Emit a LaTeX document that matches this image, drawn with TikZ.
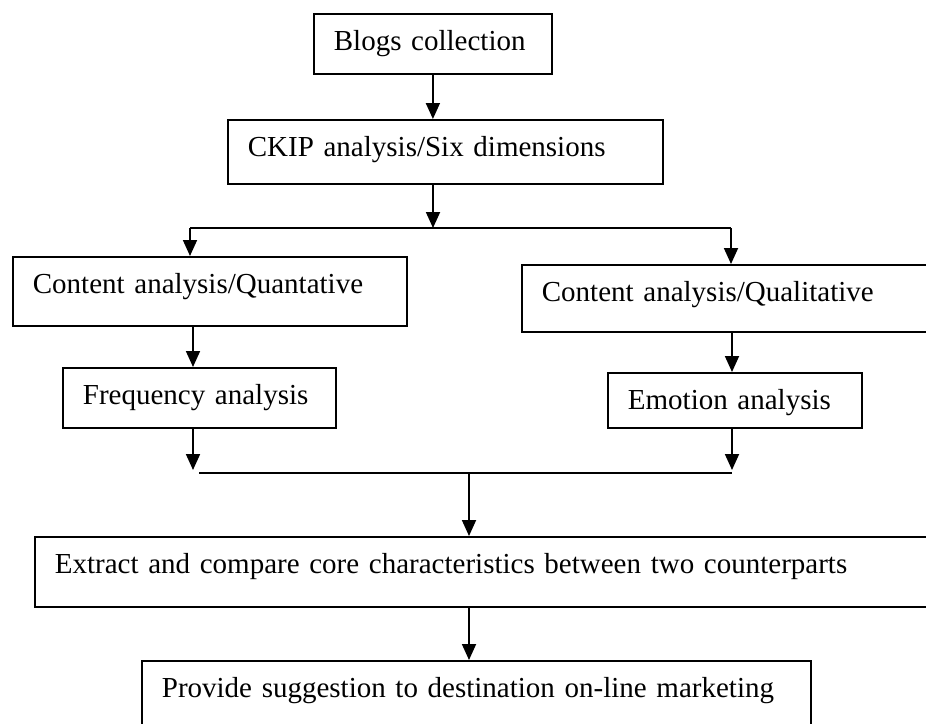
\documentclass[tikz,border=0pt]{standalone}
\usepackage{fontspec}
\setmainfont{Liberation Serif}
\usetikzlibrary{arrows.meta}
\begin{document}
\begin{tikzpicture}[x=1pt,y=-1pt,
  box/.style={draw,line width=1.8pt,anchor=north west,inner xsep=20pt,inner ysep=0pt,
    align=left,text height=37pt,font=\fontsize{29pt}{34pt}\selectfont},
  conn/.style={line width=1.8pt},
  arr/.style={line width=1.8pt,-{Triangle[width=14pt,length=16pt]}}]
\useasboundingbox (0,0) rectangle (926,723);
\clip (0,0) rectangle (926,723);
\fill[white] (0,0) rectangle (926,723);
% boxes
\node[box,text width=198pt,text depth=23pt] (blogs) at (313,13) {Blogs collection};
\node[box,text width=395pt,text depth=27pt] (ckip) at (227,119) {CKIP analysis/Six dimensions};
\node[box,text width=354pt,text depth=32pt] (quant) at (12,256) {Content analysis/Quantative};
\node[box,text width=390pt,text depth=30pt] (qual) at (521,264) {Content analysis/Qualitative};
\node[box,text width=233pt,text depth=23pt] (freq) at (62,367) {Frequency analysis};
\node[box,text width=214pt,text depth=18pt] (emo) at (607,372) {Emotion analysis};
\node[box,text width=880pt,text depth=33pt] (extract) at (34,536) {Extract and compare core characteristics between two counterparts};
\node[box,text width=629pt,text depth=43pt] (provide) at (141,660) {Provide suggestion to destination on-line marketing};
% junction coordinates
\coordinate (split) at (433,228);
\coordinate (sl) at (190,228);
\coordinate (sr) at (731,228);
\coordinate (ql) at (193,0);
\coordinate (qr) at (732,0);
\coordinate (jl) at (199,473);
\coordinate (jr) at (732,473);
\coordinate (jm) at (469,473);
\coordinate (tl) at (193,470);
\coordinate (tr) at (732,470);
% connectors
\draw[arr] (blogs.south) -- (blogs.south |- ckip.north);
\draw[arr] (ckip.south -| split) -- (split);
\draw[conn] (sl) -- (sr);
\draw[arr] (sl) -- (sl |- quant.north);
\draw[arr] (sr) -- (sr |- qual.north);
\draw[arr] (quant.south -| ql) -- (freq.north -| ql);
\draw[arr] (qual.south -| qr) -- (emo.north -| qr);
\draw[arr] (freq.south -| ql) -- (tl);
\draw[arr] (emo.south -| qr) -- (tr);
\draw[conn] (jl) -- (jr);
\draw[arr] (jm) -- (jm |- extract.north);
\draw[arr] (extract.south -| jm) -- (provide.north -| jm);
\end{tikzpicture}
\end{document}
